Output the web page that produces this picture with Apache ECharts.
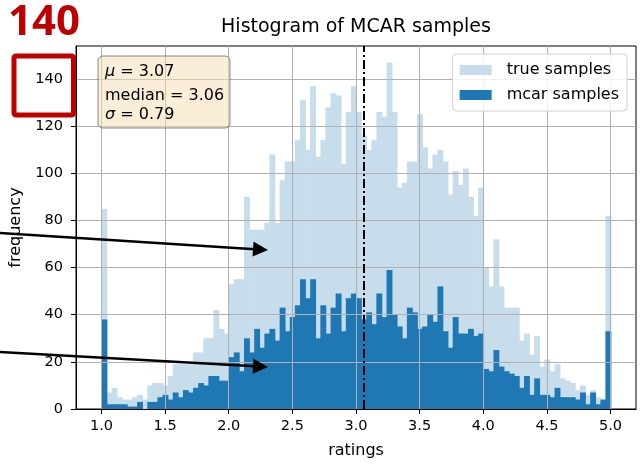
<!DOCTYPE html>
<html><head><meta charset="utf-8">
<script src="https://cdn.jsdelivr.net/npm/echarts@6/dist/echarts.min.js"></script>
<style>html,body{margin:0;padding:0;background:#fff}#c{width:641px;height:464px}</style>
</head><body><div id="c"></div>
<script>
// ---- data ----
const binStart = 1.0;
const binWidth = 0.04;
const trueCounts = [85,7,9,5,4,4,5,6,4,10, 11,11,10,14,19,19,19,19,24,24,
  30,30,42,34,32,53,55,55,90,76, 76,76,79,108,79,97,105,105,114,131,
  110,137,107,114,128,134,133,104,126,137, 126,116,110,114,126,124,147,126,94,96,
  105,105,125,111,102,108,110,105,91,101, 95,102,90,82,94,60,52,72,52,43,
  43,43,29,32,23,31,18,21,16,19, 13,12,11,8,10,6,8,5,4,82];
const mcarCounts = [38,2,2,2,2,1,1,3,0,3, 3,5,6,4,7,5,8,7,9,11,
  10,14,14,12,12,22,24,16,30,24, 34,26,32,34,29,43,33,39,44,55,
  47,55,30,44,32,43,49,33,47,49, 47,38,41,36,49,39,59,40,35,30,
  43,41,34,35,40,37,52,33,26,39, 32,32,34,31,32,17,16,25,18,16,
  15,14,9,14,6,13,6,6,5,9, 5,5,5,4,7,2,7,2,4,33];
const xTicks = [1.0,1.5,2.0,2.5,3.0,3.5,4.0,4.5,5.0];
const yTicks = [0,20,40,60,80,100,120,140];
const seriesNames = ['true samples','mcar samples'];
const statMu = '3.07', statMedian = '3.06', statSigma = '0.79';
const meanLine = 3.065;
const annotationNumber = '140';

// ---- build ----
function toBins(counts){
  return counts.map((c,i)=>[binStart+i*binWidth, binStart+(i+1)*binWidth, c]);
}
function makeRender(color){
  return function(params, api){
    const p0 = api.coord([api.value(0), api.value(2)]);
    const p1 = api.coord([api.value(1), 0]);
    return {type:'rect', shape:{x:p0[0], y:p0[1], width:p1[0]-p0[0]+0.8, height:p1[1]-p0[1]},
      style:{fill:color}};
  };
}
const FONT = 'DejaVu Sans';
const lightC = '#c7ddec', darkC = '#1f77b4', red = '#c00000';
const chart = echarts.init(document.getElementById('c'), null, {renderer:'canvas'});
function arrow(x1,y1,x2,y2){
  const dx=x2-x1, dy=y2-y1, L=Math.hypot(dx,dy), ux=dx/L, uy=dy/L;
  const hl=15, hw=7.5;
  const bx=x2-ux*hl, by=y2-uy*hl;
  return [
    {type:'line', z:100, shape:{x1:x1,y1:y1,x2:bx+ux*2,y2:by+uy*2}, style:{stroke:'#000', lineWidth:2.5}},
    {type:'polygon', z:100, shape:{points:[[x2,y2],[bx-uy*hw,by+ux*hw],[bx+uy*hw,by-ux*hw]]}, style:{fill:'#000'}}
  ];
}
const axisCommon = {
  axisLine:{show:true, onZero:false, lineStyle:{color:'#000', width:1}},
  axisTick:{show:true, length:5, lineStyle:{color:'#000', width:1}},
  splitLine:{show:true, lineStyle:{color:'#b0b0b0', width:1}},
  nameTextStyle:{fontFamily:FONT, fontSize:16, color:'#000'}
};
chart.setOption({
  animation:false,
  backgroundColor:'#fff',
  title:{text:'Histogram of MCAR samples', left:356, top:18, textAlign:'center', padding:0,
    textStyle:{fontFamily:FONT, fontSize:19, fontWeight:'normal', color:'#000'}},
  grid:{left:76, top:46, right:5, bottom:55, show:true, borderColor:'#000', borderWidth:1, backgroundColor:'transparent'},
  legend:{data:seriesNames, orient:'vertical', right:14, top:54, z:10,
    icon:'rect', itemWidth:32, itemHeight:10, itemGap:9,
    padding:[8,8,8,7], backgroundColor:'rgba(255,255,255,0.85)', borderColor:'#d0d0d0', borderWidth:1, borderRadius:4,
    textStyle:{fontFamily:FONT, fontSize:16, color:'#000', padding:[0,0,0,10]}},
  xAxis:Object.assign({}, axisCommon, {type:'value', min:0.8, max:5.2, z:5,
    name:'ratings', nameLocation:'middle', nameGap:34,
    axisTick:Object.assign({}, axisCommon.axisTick, {customValues:xTicks}),
    axisLabel:{customValues:xTicks, margin:10, fontFamily:FONT, fontSize:14.5, color:'#000', formatter:v=>v.toFixed(1)}}),
  yAxis:Object.assign({}, axisCommon, {type:'value', min:0, max:154, z:5,
    name:'frequency', nameLocation:'middle', nameGap:52,
    axisTick:Object.assign({}, axisCommon.axisTick, {customValues:yTicks}),
    axisLabel:{customValues:yTicks, margin:13, fontFamily:FONT, fontSize:14.5, color:'#000'}}),
  series:[
    {name:seriesNames[0], type:'custom', z:2, itemStyle:{color:lightC}, renderItem:makeRender(lightC),
      encode:{x:[0,1], y:2}, data:toBins(trueCounts)},
    {name:seriesNames[1], type:'custom', z:3, itemStyle:{color:darkC}, renderItem:makeRender(darkC),
      encode:{x:[0,1], y:2}, data:toBins(mcarCounts)},
    {name:'mean', type:'line', data:[], z:8, silent:true,
      markLine:{symbol:'none', silent:true, z:8, label:{show:false},
        lineStyle:{color:'#000', type:[9,3,2,3], width:2},
        data:[{xAxis:meanLine}]}}
  ],
  graphic:[
    {type:'rect', z:100, shape:{x:98, y:56, width:132, height:72, r:5},
      style:{fill:'rgba(245,222,179,0.5)', stroke:'rgba(0,0,0,0.45)', lineWidth:1}},
    {type:'text', z:101, x:105, y:72, style:{text:'{i|μ} = '+statMu, fontFamily:FONT, fontSize:16, fill:'#000', verticalAlign:'middle',
      rich:{i:{fontStyle:'italic', fontFamily:FONT, fontSize:16}}}},
    {type:'text', z:101, x:105, y:96, style:{text:'median = '+statMedian, fontFamily:FONT, fontSize:16, fill:'#000', verticalAlign:'middle'}},
    {type:'text', z:101, x:105, y:115, style:{text:'{i|σ} = '+statSigma, fontFamily:FONT, fontSize:16, fill:'#000', verticalAlign:'middle',
      rich:{i:{fontStyle:'italic', fontFamily:FONT, fontSize:16}}}},
    {type:'text', z:101, x:8, y:23, style:{text:annotationNumber, font:'bold 42px "Open Sans"', fill:red, verticalAlign:'middle'}},
    {type:'rect', z:101, shape:{x:14, y:56, width:59.5, height:59, r:2}, style:{fill:'none', stroke:red, lineWidth:5}},
    ...arrow(0,233,268,250),
    ...arrow(0,352,268,367)
  ]
});
</script></body></html>
